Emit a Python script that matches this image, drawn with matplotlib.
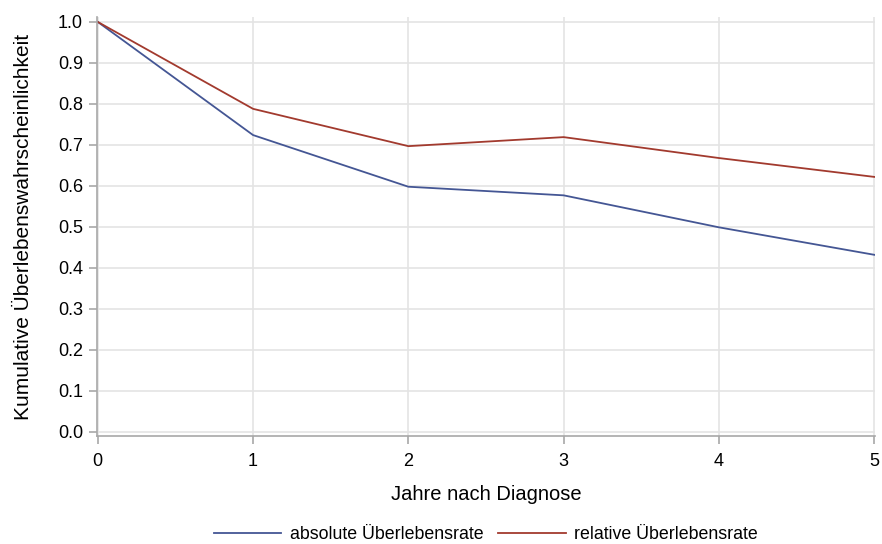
import matplotlib
matplotlib.use("Agg")
import matplotlib.pyplot as plt

# Daten
jahre = [0, 1, 2, 3, 4, 5]
absolut = [1.0, 0.724, 0.598, 0.577, 0.499, 0.432]
relativ = [1.0, 0.788, 0.697, 0.719, 0.668, 0.622]
y_ticks = [0.0, 0.1, 0.2, 0.3, 0.4, 0.5, 0.6, 0.7, 0.8, 0.9, 1.0]

plt.rcParams["font.family"] = ["Liberation Sans", "DejaVu Sans"]

fig = plt.figure(figsize=(8.82, 5.44), dpi=100)
ax = fig.add_axes([97 / 882, (544 - 436) / 544, (875 - 97) / 882, (436 - 17) / 544])

ax.plot(jahre, absolut, color="#445694", lw=1.3, label="absolute Überlebensrate")
ax.plot(jahre, relativ, color="#A23A2E", lw=1.3, label="relative Überlebensrate")

ax.set_xlim(-0.005, 5.005)
ax.set_ylim(-0.01, 1.012)
ax.set_xticks(jahre)
ax.set_yticks(y_ticks)
ax.set_yticklabels([f"{v:.1f}" for v in y_ticks])
ax.grid(True, color="#E4E4E4", lw=1.2)
ax.set_axisbelow(True)

for side in ["top", "right"]:
    ax.spines[side].set_visible(False)
for side in ["left", "bottom"]:
    ax.spines[side].set_color("#A8A8A8")
    ax.spines[side].set_linewidth(1.2)
ax.tick_params(colors="#A8A8A8", labelcolor="black", labelsize=13, length=6, width=1.2)
ax.tick_params(axis="y", pad=4)
ax.tick_params(axis="x", pad=6)

ax.set_xlabel("Jahre nach Diagnose", fontsize=14.5, labelpad=11)
ax.set_ylabel("Kumulative Überlebenswahrscheinlichkeit", fontsize=15, labelpad=18)

ax.legend(loc="center", bbox_to_anchor=(0.5, -0.235), ncol=2, frameon=False,
          fontsize=12.8, handlelength=3.8, columnspacing=0.8, handletextpad=0.5)

fig.savefig("out.png", dpi=100)
